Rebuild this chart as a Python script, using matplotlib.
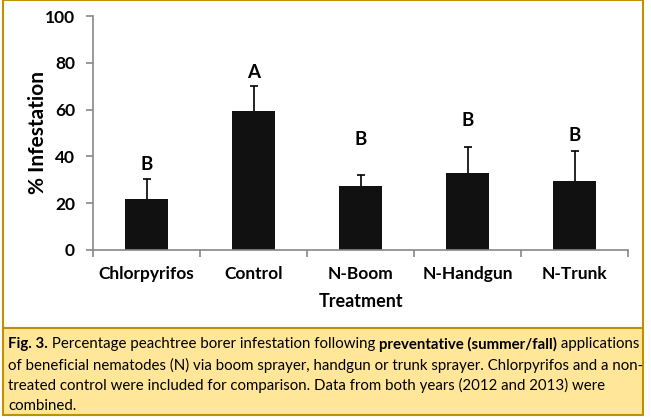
import matplotlib.pyplot as plt
from matplotlib.patches import Rectangle
import numpy as np

plt.rcParams['font.family'] = ['Lato', 'DejaVu Sans']

treatments = ['Chlorpyrifos', 'Control', 'N-Boom', 'N-Handgun', 'N-Trunk']
infestation = [21.7, 59.4, 27.3, 32.8, 29.4]
err_upper = [8.5, 10.8, 4.6, 11.1, 12.7]
letters = ['B', 'A', 'B', 'B', 'B']
letter_y = [36.3, 76.0, 47.0, 55.5, 49.1]

W, H = 651, 419
fig = plt.figure(figsize=(W / 100, H / 100), dpi=100)


def px(x0, y0, x1, y1):
    # pixel box (top-left origin) -> figure coords
    return [x0 / W, 1 - y1 / H, (x1 - x0) / W, (y1 - y0) / H]


gold = '#BF9000'
# outer chart frame and caption box
fig.add_artist(Rectangle((2.7 / W, 1 - 328 / H), 640.6 / W, 327.5 / H, zorder=-5,
                         transform=fig.transFigure, fc='white', ec=gold, lw=1.5))
fig.add_artist(Rectangle((2.7 / W, 1 - 414.7 / H), 640.6 / W, 86.7 / H, zorder=-5,
                         transform=fig.transFigure, fc='#FFE699', ec=gold, lw=1.5))

ax = fig.add_axes(px(93, 16.2, 628.3, 249.7))
ax.patch.set_alpha(0)
x = np.arange(len(treatments))
tops = np.array(infestation) + np.array(err_upper)
ax.bar(x, infestation, width=0.4, color='#111111', zorder=2)
ax.errorbar(x, infestation, yerr=[np.zeros(len(x)), err_upper], fmt='none',
            ecolor='black', elinewidth=1.2, capsize=0, zorder=3)
ax.plot(x, tops, ls='none', marker='_', ms=6, mew=1.2, color='black', zorder=3)
for xi, lab, ly in zip(x, letters, letter_y):
    ax.text(xi, ly, lab, ha='center', va='center', fontsize=13.5, fontweight='bold')

ax.set_xlim(-0.5, len(x) - 0.5)
ax.set_ylim(0, 100)
ax.set_yticks(range(0, 101, 20))
ax.set_xticks(np.arange(-0.5, len(x), 1))
ax.set_xticklabels([])
ax.set_xticks(x, minor=True)
ax.set_xticklabels(treatments, minor=True, fontsize=12.5, fontweight='bold')
ax.tick_params(axis='x', which='minor', length=0, pad=12)
ax.tick_params(axis='x', which='major', length=5, color='#888888', width=1.2)
ax.tick_params(axis='y', length=5, color='#888888', width=1.2, pad=8)
for t in ax.get_yticklabels():
    t.set_fontweight('bold')
    t.set_fontsize(12.5)
for s in ['top', 'right']:
    ax.spines[s].set_visible(False)
for s in ['left', 'bottom']:
    ax.spines[s].set_color('#888888')
    ax.spines[s].set_linewidth(1.2)
ax.set_ylabel('% Infestation', fontsize=15, fontweight='bold')
ax.yaxis.set_label_coords(-0.084, 0.5)
ax.set_xlabel('Treatment', fontsize=13, fontweight='bold', labelpad=8)

# caption with mixed weights
cap = fig.add_axes([0, 0, 1, 1], zorder=5)
cap.axis('off')
cap.set_xlim(0, W)
cap.set_ylim(H, 0)
lines = [
    [('Fig. 3.', 'bold'), (' Percentage peachtree borer infestation following ', 'normal'),
     ('preventative (summer/fall)', 'bold'), (' applications', 'normal')],
    [('of beneficial nematodes (N) via boom sprayer, handgun or trunk sprayer. '
      'Chlorpyrifos and a non-', 'normal')],
    [('treated control were included for comparison. Data from both years '
      '(2012 and 2013) were', 'normal')],
    [('combined.', 'normal')],
]
line_y = [344, 365, 385.5, 405.5]
for parts, ly in zip(lines, line_y):
    prev = None
    for s, w in parts:
        if prev is None:
            prev = cap.text(8, ly, s, fontsize=10.8, fontweight=w, va='center', ha='left')
        else:
            prev = cap.annotate(s, xycoords=prev, xy=(1, 0.5), va='center', ha='left',
                                fontsize=10.8, fontweight=w)

fig.savefig('out.png', dpi=100)
